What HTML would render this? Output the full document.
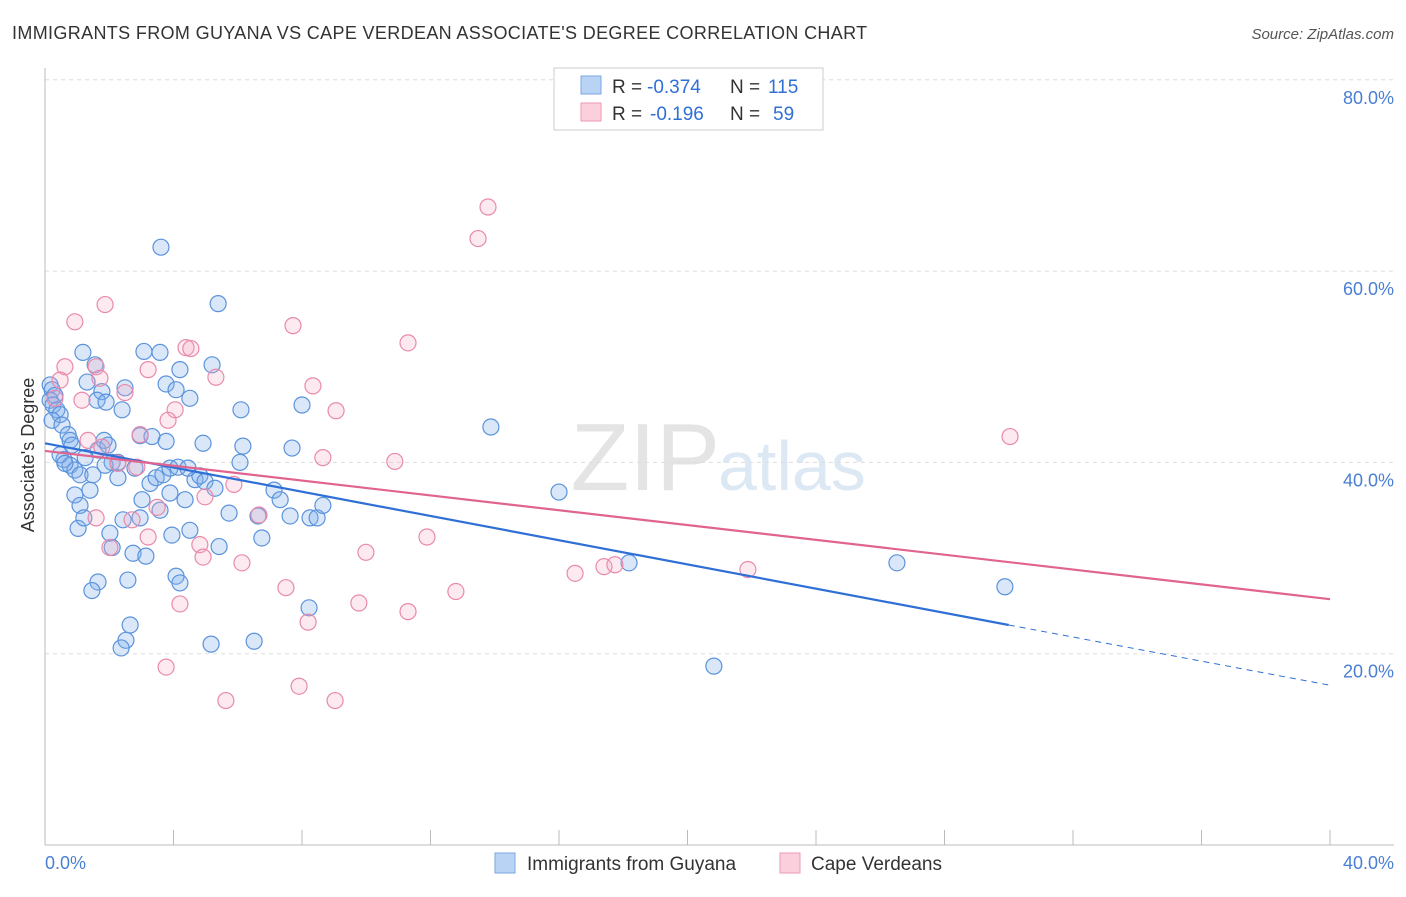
<!DOCTYPE html>
<html><head><meta charset="utf-8"><style>
body{margin:0;background:#fff;font-family:"Liberation Sans",sans-serif}
svg text{font-family:"Liberation Sans",sans-serif}
</style></head><body>
<svg width="1406" height="892" id="chart">
<text x="12" y="39" font-size="18" fill="#333" letter-spacing="0.35">IMMIGRANTS FROM GUYANA VS CAPE VERDEAN ASSOCIATE'S DEGREE CORRELATION CHART</text>
<text x="1394" y="39" font-size="15" fill="#555" font-style="italic" text-anchor="end">Source: ZipAtlas.com</text>
<text x="720" y="490" font-size="96" fill="#e4e4e4" text-anchor="end" font-family="Liberation Serif">ZIP</text>
<text x="718" y="490" font-size="70" fill="#dce8f4">atlas</text>
<g id="grid"></g><g id="axes"></g><g id="pts"></g><g id="lines"></g>
<text transform="translate(34,455) rotate(-90)" font-size="18" fill="#333" text-anchor="middle">Associate's Degree</text>
<text x="45" y="869" font-size="18" fill="#4a7fd4">0.0%</text>
<text x="1394" y="869" font-size="18" fill="#4a7fd4" text-anchor="end">40.0%</text>
<g>
<rect x="554" y="68" width="269" height="62" fill="#fff" stroke="#ccc"/>
<rect x="581" y="76" width="20" height="18" fill="#b9d3f5" stroke="#7aa7e6"/>
<rect x="581" y="103" width="20" height="18" fill="#fbd0dc" stroke="#ef9ab5"/>
<text x="612" y="93" font-size="19" fill="#333">R =</text>
<text x="647" y="93" font-size="19" fill="#2f6fd6">-0.374</text>
<text x="730" y="93" font-size="19" fill="#333">N =</text>
<text x="768" y="93" font-size="19" fill="#2f6fd6">115</text>
<text x="612" y="120" font-size="19" fill="#333">R =</text>
<text x="650" y="120" font-size="19" fill="#2f6fd6">-0.196</text>
<text x="730" y="120" font-size="19" fill="#333">N =</text>
<text x="773" y="120" font-size="19" fill="#2f6fd6">59</text>
</g>
<g>
<rect x="495" y="853" width="20" height="20" fill="#b9d3f5" stroke="#7aa7e6"/>
<text x="527" y="870" font-size="19" fill="#333">Immigrants from Guyana</text>
<rect x="780" y="853" width="20" height="20" fill="#fbd0dc" stroke="#ef9ab5"/>
<text x="811" y="870" font-size="19" fill="#333">Cape Verdeans</text>
</g>
</svg>
<script>
const yTicks=[20,40,60,80];
const xTicks=[0,4,8,12,16,20,24,28,32,36,40];
const blueX=[3.61,5.39,0.16,0.22,0.31,0.16,0.25,0.37,0.47,0.22,0.53,0.72,0.78,0.84,0.59,0.78,0.93,1.09,0.93,1.09,1.03,1.21,1.40,1.49,1.65,1.84,1.96,2.09,2.27,2.43,2.02,2.09,1.65,1.46,2.65,2.52,2.37,2.74,3.14,2.96,3.02,3.27,3.46,3.67,3.89,4.14,3.89,3.95,4.08,4.20,3.77,4.08,4.51,3.58,3.08,1.18,1.56,1.31,1.77,1.62,1.90,2.40,2.49,2.96,3.33,3.77,4.92,6.16,5.20,6.10,6.07,5.73,5.42,6.51,5.17,6.75,6.63,7.13,7.32,7.63,8.25,8.47,8.65,8.22,7.69,8.00,13.88,16.0,18.18,20.82,26.52,29.88,4.67,4.82,4.98,5.29,4.20,0.47,0.62,1.25,2.27,1.87,2.80,4.45,3.58,4.36,4.51,2.58];
const blueY=[62.5,56.6,48.1,47.6,47.0,46.5,46.0,45.5,45.0,44.4,43.9,42.9,42.3,41.8,40.3,39.7,39.2,38.7,36.6,35.5,33.1,34.2,37.1,38.7,41.3,42.3,41.8,40.0,38.4,34.0,32.6,31.1,27.5,26.6,23.0,21.4,20.6,30.5,30.2,34.2,36.1,37.8,38.4,38.7,39.4,39.5,36.8,32.4,28.1,27.4,48.2,47.6,46.7,51.5,51.6,51.5,50.2,48.4,47.4,46.5,46.3,45.5,47.8,42.8,42.7,42.2,42.0,41.7,50.2,45.5,40.0,34.7,31.2,21.3,21.0,32.1,34.4,37.1,36.1,34.4,34.2,34.2,35.5,24.8,41.5,46.0,43.7,36.9,29.5,18.7,29.5,27.0,38.2,38.6,38.0,37.3,49.7,40.8,39.9,40.5,40.0,39.7,39.4,39.4,35.0,36.1,32.9,27.7];
const pinkX=[13.79,13.48,1.87,0.93,7.72,11.30,4.39,4.54,0.62,1.59,3.21,5.32,8.34,1.71,2.49,0.31,4.05,9.06,30.04,3.83,2.96,1.34,1.77,8.65,10.89,2.27,2.86,5.88,4.98,3.49,6.66,1.59,2.71,11.89,9.99,3.21,4.82,4.92,6.13,16.5,17.4,17.74,21.88,7.50,12.79,4.20,9.77,11.30,8.19,3.77,7.91,5.63,9.03,2.02,1.15,0.47];
const pinkY=[66.7,63.4,56.5,54.7,54.3,52.5,52.0,51.9,50.0,50.0,49.7,48.9,48.0,48.8,47.3,46.7,45.5,45.4,42.7,44.4,42.9,42.3,41.6,40.5,40.1,39.9,39.5,37.7,36.4,35.3,34.5,34.2,34.0,32.2,30.6,32.2,31.4,30.1,29.5,28.4,29.1,29.3,28.8,26.9,26.5,25.2,25.3,24.4,23.3,18.6,16.6,15.1,15.1,31.1,46.5,48.6];
const blueTrend=[[0,42.0],[30,23.0],[40,16.7]];
const pinkTrend=[[0,41.2],[40,25.7]];
const X=v=>45+v/40*1285, Y=v=>845-v/20*191.3;
const NS="http://www.w3.org/2000/svg";
function mk(p,t,a){const e=document.createElementNS(NS,t);for(const k in a)e.setAttribute(k,a[k]);document.getElementById(p).appendChild(e);return e;}
yTicks.forEach(t=>{
 const l=mk('grid','line',{x1:45,x2:1394,y1:Y(t),y2:Y(t),stroke:'#ddd','stroke-dasharray':'4,4'});
 
 
 const tx=mk('grid','text',{x:1394,y:Y(t)+24,'font-size':18,fill:'#4a7fd4','text-anchor':'end'});tx.textContent=t.toFixed(1)+'%';
 
 
});
mk('axes','line',{x1:45,x2:45,y1:68,y2:845,stroke:'#bbb'});
mk('axes','line',{x1:45,x2:1394,y1:845,y2:845,stroke:'#bbb'});
xTicks.forEach(t=>{const l=mk('axes','line',{x1:X(t),x2:X(t),y1:830,y2:845,stroke:'#bbb'});
 
 });
blueX.forEach((v,i)=>{const c=mk('pts','circle',{cx:X(v),cy:Y(blueY[i]),r:8,fill:'rgba(130,176,235,0.3)',stroke:'#5b93dc','stroke-width':1.2});
 
 });
pinkX.forEach((v,i)=>{const c=mk('pts','circle',{cx:X(v),cy:Y(pinkY[i]),r:8,fill:'rgba(245,170,195,0.25)',stroke:'#e98aab','stroke-width':1.2});
 
 });
let b=mk('lines','line',{x1:X(blueTrend[0][0]),y1:Y(blueTrend[0][1]),x2:X(blueTrend[1][0]),y2:Y(blueTrend[1][1]),stroke:'#2f6fd6','stroke-width':2.2});


let bd=mk('lines','line',{x1:X(blueTrend[1][0]),y1:Y(blueTrend[1][1]),x2:X(blueTrend[2][0]),y2:Y(blueTrend[2][1]),stroke:'#2f6fd6','stroke-width':1,'stroke-dasharray':'6,5'});


let p=mk('lines','line',{x1:X(pinkTrend[0][0]),y1:Y(pinkTrend[0][1]),x2:X(pinkTrend[1][0]),y2:Y(pinkTrend[1][1]),stroke:'#e0648f','stroke-width':2.2});


</script>
</body></html>
